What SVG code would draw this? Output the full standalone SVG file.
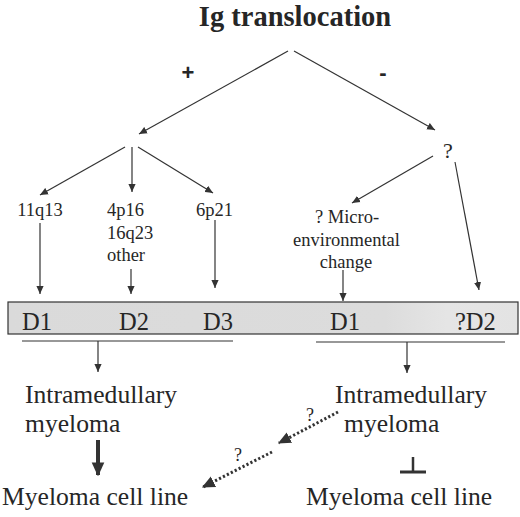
<svg xmlns="http://www.w3.org/2000/svg" width="520" height="517" viewBox="0 0 520 517">
<style>
text{font-family:"Liberation Serif","Times New Roman",serif;fill:#262626}
.t18{font-size:18.5px}
.t24{font-size:24.5px}
.t26{font-size:25.6px}
.sans{font-family:"Liberation Sans",Arial,sans-serif;font-weight:bold;font-size:22px}
.ln{stroke:#333;stroke-width:1.2;fill:none}
.dot{stroke:#333;stroke-width:3;fill:none;stroke-dasharray:2.2 2.2}
</style>
<defs>
<marker id="ah" viewBox="0 0 10 10" refX="10" refY="5" markerWidth="8" markerHeight="8" markerUnits="userSpaceOnUse" orient="auto">
<path d="M0,0.5 L10,5 L0,9.5 Z" fill="#333"/>
</marker>
<marker id="ahb" viewBox="0 0 10 10" refX="9" refY="5" markerWidth="14" markerHeight="14" markerUnits="userSpaceOnUse" orient="auto">
<path d="M0,0.5 L10,5 L0,9.5 Z" fill="#333"/>
</marker>
<marker id="ahd" viewBox="0 0 10 10" refX="9" refY="5" markerWidth="13" markerHeight="13" markerUnits="userSpaceOnUse" orient="auto">
<path d="M0,0.5 L10,5 L0,9.5 Z" fill="#333"/>
</marker>
<linearGradient id="bg" x1="0" x2="1" y1="0" y2="0">
<stop offset="0" stop-color="#dadada"/>
<stop offset="0.74" stop-color="#dcdcdc"/>
<stop offset="0.86" stop-color="#e5e5e5"/>
<stop offset="1" stop-color="#e3e3e3"/>
</linearGradient>
</defs>
<rect width="520" height="517" fill="#fff"/>

<g id="title"><text x="295" y="25.5" text-anchor="middle" font-weight="bold" font-size="28.5">Ig translocation</text></g>
<g id="plus"><text class="sans" x="188" y="80" text-anchor="middle">+</text></g>
<g id="minus"><text class="sans" x="383" y="80" text-anchor="middle">-</text></g>
<g id="q"><text x="448" y="158" text-anchor="middle" font-size="22">?</text></g>

<g id="n11q13"><text class="t18" x="40" y="216" text-anchor="middle">11q13</text></g>
<g id="n4p16"><text class="t18" x="107" y="216">4p16</text><text class="t18" x="107" y="239">16q23</text><text class="t18" x="107" y="261">other</text></g>
<g id="n6p21"><text class="t18" x="214.5" y="216" text-anchor="middle">6p21</text></g>
<g id="micro"><text class="t18" x="347" y="223" text-anchor="middle">? Micro-</text><text class="t18" x="346.5" y="246" text-anchor="middle">environmental</text><text class="t18" x="346" y="268" text-anchor="middle">change</text></g>

<g id="bar">
<rect x="8" y="302" width="510" height="32" fill="url(#bg)" stroke="#333" stroke-width="1.2"/>
<text class="t24" x="22" y="330">D1</text>
<text class="t24" x="119" y="330">D2</text>
<text class="t24" x="203" y="330">D3</text>
<text class="t24" x="330" y="330">D1</text>
<text class="t24" x="455" y="330">?D2</text>
</g>

<g id="left-im"><text class="t26" x="25" y="403">Intramedullary</text><text class="t26" x="25" y="432">myeloma</text></g>
<g id="right-im"><text class="t26" x="335" y="403">Intramedullary</text><text class="t26" x="344" y="432">myeloma</text></g>
<g id="left-cl"><text class="t26" x="2" y="505">Myeloma cell line</text></g>
<g id="right-cl"><text class="t26" x="306" y="505">Myeloma cell line</text></g>
<g id="dq"><text x="310" y="421" text-anchor="middle" font-size="18">?</text><text x="238" y="461" text-anchor="middle" font-size="18">?</text></g>

<g id="connectors">
<line class="ln" x1="288" y1="51" x2="139" y2="134" marker-end="url(#ah)"/>
<line class="ln" x1="294" y1="51" x2="435" y2="130" marker-end="url(#ah)"/>
<line class="ln" x1="125" y1="147" x2="40" y2="195" marker-end="url(#ah)"/>
<line class="ln" x1="132" y1="147" x2="132" y2="192" marker-end="url(#ah)"/>
<line class="ln" x1="138" y1="147" x2="213" y2="193" marker-end="url(#ah)"/>
<line class="ln" x1="433" y1="156" x2="352" y2="203" marker-end="url(#ah)"/>
<line class="ln" x1="455" y1="162" x2="479" y2="290" marker-end="url(#ah)"/>
<line class="ln" x1="40" y1="223" x2="40" y2="294" marker-end="url(#ah)"/>
<line class="ln" x1="131" y1="269" x2="131" y2="294" marker-end="url(#ah)"/>
<line class="ln" x1="215" y1="220" x2="215" y2="288" marker-end="url(#ah)"/>
<line class="ln" x1="343" y1="270" x2="343" y2="301" marker-end="url(#ah)"/>
<line class="ln" x1="22" y1="341" x2="233" y2="341"/>
<line class="ln" x1="316" y1="342" x2="505" y2="342"/>
<line class="ln" x1="98" y1="341" x2="98" y2="372" marker-end="url(#ah)"/>
<line class="ln" x1="407" y1="342" x2="407" y2="373" marker-end="url(#ah)"/>
<line x1="98" y1="440" x2="98" y2="475" stroke="#333" stroke-width="4" marker-end="url(#ahb)"/>
<line x1="413" y1="457" x2="413" y2="472" stroke="#333" stroke-width="2.5"/>
<line x1="400" y1="472" x2="426" y2="472" stroke="#333" stroke-width="3"/>
<line class="dot" x1="338" y1="412" x2="279" y2="443" marker-end="url(#ahd)"/>
<line class="dot" x1="272" y1="452" x2="203" y2="487" marker-end="url(#ahd)"/>
</g>
</svg>
